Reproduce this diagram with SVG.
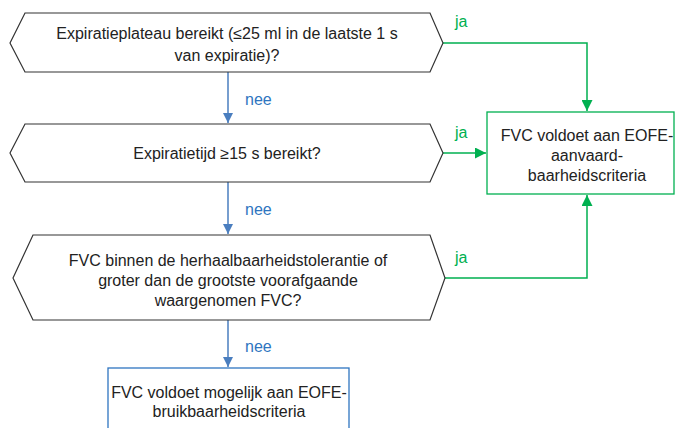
<svg xmlns="http://www.w3.org/2000/svg" width="677" height="428" viewBox="0 0 677 428">
<defs>
<marker id="ab" viewBox="0 0 10 10" refX="10" refY="5" markerWidth="10" markerHeight="10" markerUnits="userSpaceOnUse" orient="auto"><path d="M0,0L10,5L0,10z" fill="#4a7ebf"/></marker>
<marker id="ag" viewBox="0 0 10 10" refX="10" refY="5" markerWidth="11" markerHeight="11" markerUnits="userSpaceOnUse" orient="auto"><path d="M0,0L10,5L0,10z" fill="#00b050"/></marker>
</defs>
<style>
text{font-family:"Liberation Sans",Arial,sans-serif;font-size:16px;fill:#222;text-anchor:middle}
.hex{fill:#fff;stroke:#333;stroke-width:1.2}
.b{fill:none;stroke:#4a7ebf;stroke-width:1.5}
.g{fill:none;stroke:#00b050;stroke-width:1.5}
.lb{fill:#2e75c0;text-anchor:start}
.lg{fill:#00b050;text-anchor:start}
</style>
<rect width="677" height="428" fill="#fff"/>
<g id="connectors">
<path class="b" d="M228,72V123" marker-end="url(#ab)"/>
<path class="b" d="M228,182V234" marker-end="url(#ab)"/>
<path class="b" d="M228,320V367" marker-end="url(#ab)"/>
<path class="g" d="M443,43H587V111" marker-end="url(#ag)"/>
<path class="g" d="M443,153H486" marker-end="url(#ag)"/>
<path class="g" d="M445,278H587V195" marker-end="url(#ag)"/>
<text class="lb" x="245" y="105">nee</text>
<text class="lb" x="245" y="215">nee</text>
<text class="lb" x="245" y="352">nee</text>
<text class="lg" x="455" y="27">ja</text>
<text class="lg" x="455" y="138">ja</text>
<text class="lg" x="455" y="263">ja</text>
</g>
<g id="q1">
<path class="hex" d="M10,43L25,13H430L443,43L430,72H25Z"/>
<text x="227" y="39">Expiratieplateau bereikt (≤25 ml in de laatste 1 s</text>
<text x="227" y="61">van expiratie)?</text>
</g>
<g id="q2">
<path class="hex" d="M10,153L25,124H430L443,153L430,182H25Z"/>
<text x="227" y="159">Expiratietijd ≥15 s bereikt?</text>
</g>
<g id="q3">
<path class="hex" d="M13,278L33,235H430L445,278L430,320H33Z"/>
<text x="228" y="266">FVC binnen de herhaalbaarheidstolerantie of</text>
<text x="228" y="286">groter dan de grootste voorafgaande</text>
<text x="228" y="306">waargenomen FVC?</text>
</g>
<g id="accept">
<rect x="487" y="112" width="187" height="82" fill="#fff" stroke="#00b050" stroke-width="1.3"/>
<text x="587" y="141">FVC voldoet aan EOFE-</text>
<text x="587" y="161">aanvaard-</text>
<text x="587" y="181">baarheidscriteria</text>
</g>
<g id="usable">
<rect x="108" y="368" width="241" height="70" fill="#fff" stroke="#2e75c0" stroke-width="1.3"/>
<text x="229" y="398">FVC voldoet mogelijk aan EOFE-</text>
<text x="229" y="417">bruikbaarheidscriteria</text>
</g>
</svg>
